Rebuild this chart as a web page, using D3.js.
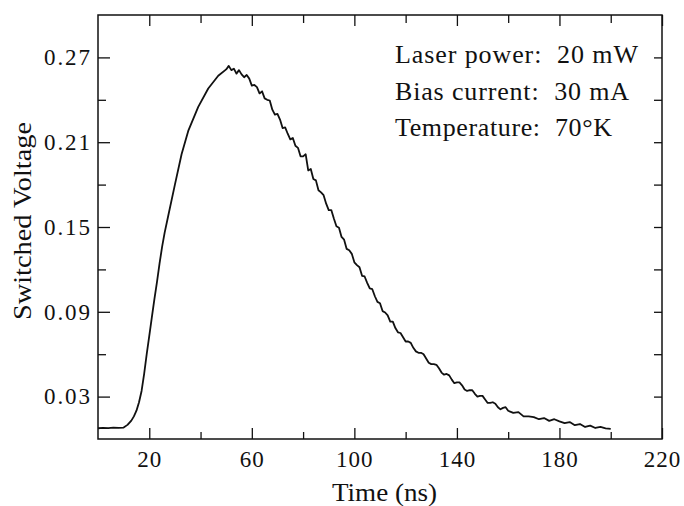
<!DOCTYPE html>
<html>
<head>
<meta charset="utf-8">
<script src="https://cdn.jsdelivr.net/npm/d3@7"></script>
<style>
  html, body { margin: 0; padding: 0; background: #fff; }
  svg { display: block; }
  text { font-family: "Liberation Serif", "Times New Roman", serif; fill: #111; }
</style>
</head>
<body>
<svg id="chart" width="684" height="506"></svg>
<script>
// ---- data ----
const timeNs = [
  0, 2, 4, 6, 8, 10, 11.5, 13, 14, 15, 16, 17, 18, 19, 20, 21, 22, 23, 24, 25, 26, 27.4, 30, 32.6, 35.2, 39.1, 43, 46.9, 50,
  51, 52, 53, 54, 55, 56, 57, 58, 59, 60, 61, 62, 63, 64, 65, 66, 67, 68, 69, 70,
  71, 72, 73, 74, 75, 76, 77, 78, 79, 80, 81, 82, 83, 84, 85, 86, 87, 88, 89, 90,
  91, 92, 93, 94, 95, 96, 97, 98, 99, 100, 101, 102, 103, 104, 105, 106, 107, 108, 109, 110,
  111, 112, 113, 114, 115, 116, 117, 118, 119, 120, 121, 122, 123, 124, 125, 126, 127, 128, 129, 130,
  131, 132, 133, 134, 135, 136, 137, 138, 139, 140, 141, 142, 143, 144, 145, 146, 147, 148, 149, 150,
  151, 152, 153, 154, 155, 156, 157, 158, 159, 160, 162, 164, 166, 168, 170, 172, 174, 176, 178, 180,
  182, 184, 186, 188, 190, 192, 194, 196, 198, 200
];
const voltage = [
  0.0076, 0.0079, 0.0077, 0.0080, 0.0078, 0.0081, 0.010, 0.013, 0.016, 0.020, 0.026, 0.034, 0.046, 0.060, 0.073, 0.086, 0.099, 0.111, 0.124, 0.136, 0.146, 0.158, 0.180, 0.2015, 0.218, 0.235, 0.248, 0.257, 0.2615,
  0.264, 0.261, 0.262, 0.2585, 0.261, 0.258, 0.256, 0.2575, 0.255, 0.250, 0.2505, 0.249, 0.2445, 0.246, 0.241, 0.240, 0.2395, 0.233, 0.2295, 0.230,
  0.226, 0.220, 0.2205, 0.216, 0.212, 0.213, 0.2075, 0.206, 0.200, 0.200, 0.2015, 0.190, 0.191, 0.184, 0.183, 0.176, 0.1745, 0.1725, 0.1665, 0.162,
  0.162, 0.156, 0.1505, 0.1495, 0.143, 0.141, 0.1345, 0.1335, 0.131, 0.125, 0.123, 0.1215, 0.1155, 0.115, 0.1105, 0.1065, 0.106, 0.101, 0.097, 0.096,
  0.0905, 0.0895, 0.0875, 0.083, 0.083, 0.0785, 0.0755, 0.075, 0.072, 0.069, 0.069, 0.068, 0.0645, 0.062, 0.061, 0.061, 0.060, 0.057, 0.054, 0.053,
  0.053, 0.0525, 0.050, 0.047, 0.0455, 0.046, 0.045, 0.042, 0.0395, 0.040, 0.040, 0.038, 0.035, 0.034, 0.0345, 0.0345, 0.032, 0.030, 0.0305, 0.0305,
  0.028, 0.0255, 0.0255, 0.026, 0.025, 0.0225, 0.021, 0.022, 0.0225, 0.020, 0.0185, 0.0190, 0.0160, 0.0160, 0.0155, 0.0140, 0.0148, 0.0128, 0.0140, 0.0125,
  0.0112, 0.0120, 0.0098, 0.0106, 0.0085, 0.0095, 0.0078, 0.0085, 0.0075, 0.0072
];
const xMajorTicks = [20, 60, 100, 140, 180, 220];
const xMinorTicks = [40, 80, 120, 160, 200];
const yMajorTicks = [0.03, 0.09, 0.15, 0.21, 0.27];
const yMinorTicks = [0.06, 0.12, 0.18, 0.24];
const xLabel = "Time (ns)";
const yLabel = "Switched Voltage";
const noteLines = ["Laser power:  20 mW", "Bias current:  30 mA", "Temperature:  70°K"];

// ---- layout ----
const svg = d3.select("#chart");
const L = 98, R = 662, T = 15, B = 439;
const x = d3.scaleLinear().domain([0, 220]).range([L, R]);
const y = d3.scaleLinear().domain([0, 0.30]).range([B, T]);

const tickFont = 23;

function styleAxis(g) {
  g.select(".domain").remove();
  g.selectAll(".tick line").attr("stroke", "#111").attr("stroke-width", 1.3);
  g.selectAll(".tick text")
    .style("font-size", tickFont + "px")
    .style("font-family", "'Liberation Serif', serif")
    .attr("fill", "#111");
}

// bottom axis (ticks inward)
svg.append("g").attr("transform", `translate(0,${B})`)
  .call(d3.axisBottom(x).tickValues(xMajorTicks).tickSize(-11).tickPadding(0).tickFormat(d3.format("d")))
  .call(styleAxis)
  .call(g => g.selectAll(".tick text").attr("y", 28).attr("dy", null).style("letter-spacing", "1px"));
svg.append("g").attr("transform", `translate(0,${B})`)
  .call(d3.axisBottom(x).tickValues(xMinorTicks).tickSize(-7).tickFormat(""))
  .call(styleAxis);
// top axis
svg.append("g").attr("transform", `translate(0,${T})`)
  .call(d3.axisTop(x).tickValues(xMajorTicks).tickSize(-11).tickFormat(""))
  .call(styleAxis);
svg.append("g").attr("transform", `translate(0,${T})`)
  .call(d3.axisTop(x).tickValues(xMinorTicks).tickSize(-8).tickFormat(""))
  .call(styleAxis);
// left axis
svg.append("g").attr("transform", `translate(${L},0)`)
  .call(d3.axisLeft(y).tickValues(yMajorTicks).tickSize(-12).tickPadding(0).tickFormat(d3.format(".2f")))
  .call(styleAxis)
  .call(g => g.selectAll(".tick text").attr("x", -8).attr("textLength", 46).attr("lengthAdjust", "spacing"));
svg.append("g").attr("transform", `translate(${L},0)`)
  .call(d3.axisLeft(y).tickValues(yMinorTicks).tickSize(-8).tickFormat(""))
  .call(styleAxis);
// right axis
svg.append("g").attr("transform", `translate(${R},0)`)
  .call(d3.axisRight(y).tickValues(yMajorTicks.concat(yMinorTicks)).tickSize(-8).tickFormat(""))
  .call(styleAxis);

// frame
svg.append("rect")
  .attr("x", L).attr("y", T).attr("width", R - L).attr("height", B - T)
  .attr("fill", "none").attr("stroke", "#111").attr("stroke-width", 1.5);

// curve
const data = timeNs.map((t, i) => ({ t, v: voltage[i] }));
svg.append("path")
  .datum(data)
  .attr("fill", "none")
  .attr("stroke", "#111")
  .attr("stroke-width", 1.8)
  .attr("stroke-linejoin", "round")
  .attr("d", d3.line().x(d => x(d.t)).y(d => y(d.v)));

// axis titles
svg.append("text")
  .attr("x", 332).attr("y", 501)
  .attr("textLength", 105).attr("lengthAdjust", "spacingAndGlyphs")
  .style("font-size", "26px")
  .text(xLabel);
svg.append("text")
  .attr("transform", `translate(31,320) rotate(-90)`)
  .attr("textLength", 198).attr("lengthAdjust", "spacingAndGlyphs")
  .style("font-size", "25px")
  .text(yLabel);

// annotation
const noteBase = [63, 99.5, 136];
const noteWidth = [243, 234, 217];
noteLines.forEach((line, i) => {
  svg.append("text").attr("x", 395).attr("y", noteBase[i])
    .attr("textLength", noteWidth[i]).attr("lengthAdjust", "spacing")
    .style("font-size", "26px")
    .style("white-space", "pre")
    .text(line);
});
</script>
</body>
</html>
